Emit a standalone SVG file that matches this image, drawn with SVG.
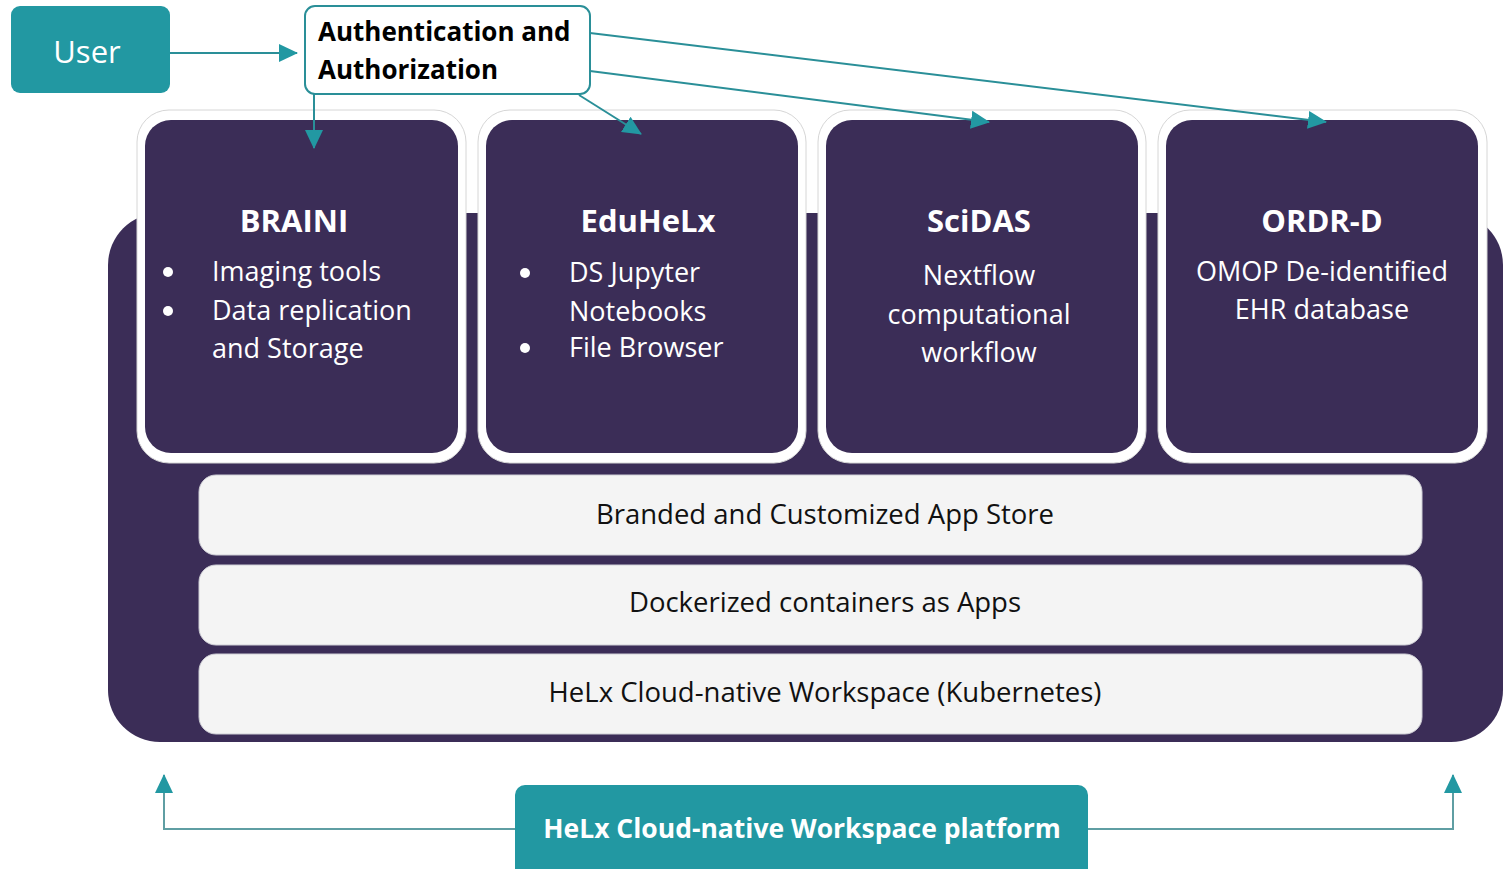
<svg xmlns="http://www.w3.org/2000/svg" width="1503" height="869" viewBox="0 0 1503 869">
<style>
.dark{fill:#3b2d57}
.teal{fill:#2298a2}
.cardout{fill:#ffffff;stroke:#d6d6d6;stroke-width:1}
.cardin{fill:#3b2d57}
.bar{fill:#f4f4f4;stroke:#cfcfd6;stroke-width:1}
.title{font-family:"Open Sans","DejaVu Sans",sans-serif;font-weight:bold;font-size:31px;fill:#ffffff;text-anchor:middle}
.body{font-family:"Open Sans","DejaVu Sans",sans-serif;font-size:27px;fill:#ffffff}
.mid{text-anchor:middle}
.bartxt{font-family:"Open Sans","DejaVu Sans",sans-serif;font-size:27.5px;fill:#111111;text-anchor:middle}
.conn{stroke:#2a8f98;stroke-width:2;fill:none}
.conn2{stroke:#5f9ea3;stroke-width:2;fill:none}
</style>
<defs>
<marker id="ah" markerUnits="userSpaceOnUse" markerWidth="20" markerHeight="20" viewBox="0 0 20 20" refX="18" refY="10" orient="auto">
<path d="M0,1 L19,10 L0,19 Z" fill="#2298a2"/>
</marker>
</defs>
<rect x="0" y="0" width="1503" height="869" fill="#ffffff"/>
<g id="platform-bg">
<rect class="dark" x="108" y="213" width="1395" height="529" rx="52"/>
</g>
<g id="braini">
<rect class="cardout" x="137" y="110" width="329" height="353" rx="32"/>
<rect class="cardin" x="145" y="120" width="313" height="333" rx="26"/>
<text class="title" x="294" y="232">BRAINI</text>
<circle cx="168" cy="272" r="5" fill="#fff"/>
<circle cx="168" cy="311" r="5" fill="#fff"/>
<text class="body" x="212" y="281">Imaging tools</text>
<text class="body" x="212" y="320">Data replication</text>
<text class="body" x="212" y="358">and Storage</text>
</g>
<g id="eduhelx">
<rect class="cardout" x="478" y="110" width="328" height="353" rx="32"/>
<rect class="cardin" x="486" y="120" width="312" height="333" rx="26"/>
<text class="title" x="648" y="232">EduHeLx</text>
<circle cx="525" cy="273" r="5" fill="#fff"/>
<circle cx="525" cy="348" r="5" fill="#fff"/>
<text class="body" x="569" y="282">DS Jupyter</text>
<text class="body" x="569" y="321">Notebooks</text>
<text class="body" x="569" y="357">File Browser</text>
</g>
<g id="scidas">
<rect class="cardout" x="818" y="110" width="328" height="353" rx="32"/>
<rect class="cardin" x="826" y="120" width="312" height="333" rx="26"/>
<text class="title" x="979" y="232">SciDAS</text>
<text class="body mid" x="979" y="285">Nextflow</text>
<text class="body mid" x="979" y="324">computational</text>
<text class="body mid" x="979" y="362">workflow</text>
</g>
<g id="ordrd">
<rect class="cardout" x="1158" y="110" width="329" height="353" rx="32"/>
<rect class="cardin" x="1166" y="120" width="312" height="333" rx="26"/>
<text class="title" x="1322" y="232">ORDR-D</text>
<text class="body mid" x="1322" y="281">OMOP De-identified</text>
<text class="body mid" x="1322" y="319">EHR database</text>
</g>
<g id="appstore">
<rect class="bar" x="199" y="475" width="1223" height="80" rx="17"/>
<text class="bartxt" x="825" y="524">Branded and Customized App Store</text>
</g>
<g id="containers">
<rect class="bar" x="199" y="565" width="1223" height="80" rx="17"/>
<text class="bartxt" x="825" y="612">Dockerized containers as Apps</text>
</g>
<g id="kubernetes">
<rect class="bar" x="199" y="654" width="1223" height="80" rx="17"/>
<text class="bartxt" x="825" y="702">HeLx Cloud-native Workspace (Kubernetes)</text>
</g>
<g id="connectors">
<line class="conn" x1="170" y1="53" x2="297" y2="53" marker-end="url(#ah)"/>
<line class="conn" x1="314" y1="94" x2="314" y2="148" marker-end="url(#ah)"/>
<line class="conn" x1="579" y1="95" x2="641" y2="134" marker-end="url(#ah)"/>
<line class="conn" x1="590" y1="71" x2="989" y2="122" marker-end="url(#ah)"/>
<line class="conn" x1="590" y1="33" x2="1326" y2="122" marker-end="url(#ah)"/>
<polyline class="conn2" points="515,829 164,829 164,775" marker-end="url(#ah)"/>
<polyline class="conn2" points="1088,829 1453,829 1453,775" marker-end="url(#ah)"/>
</g>
<g id="user">
<rect class="teal" x="11" y="6" width="159" height="87" rx="9"/>
<text x="87" y="63" text-anchor="middle" font-family="Open Sans, DejaVu Sans, sans-serif" font-size="31" fill="#ffffff">User</text>
</g>
<g id="auth">
<rect x="305" y="6" width="285" height="88" rx="10" fill="#ffffff" stroke="#2a8f98" stroke-width="2"/>
<text x="318" y="41" font-family="Open Sans, DejaVu Sans, sans-serif" font-weight="bold" font-size="26" fill="#000">Authentication and</text>
<text x="318" y="79" font-family="Open Sans, DejaVu Sans, sans-serif" font-weight="bold" font-size="26" fill="#000">Authorization</text>
</g>
<g id="helx-platform">
<rect class="teal" x="515" y="785" width="573" height="100" rx="10"/>
<text x="802" y="838" text-anchor="middle" font-family="Open Sans, DejaVu Sans, sans-serif" font-weight="bold" font-size="26.5" fill="#ffffff">HeLx Cloud-native Workspace platform</text>
</g>
</svg>
